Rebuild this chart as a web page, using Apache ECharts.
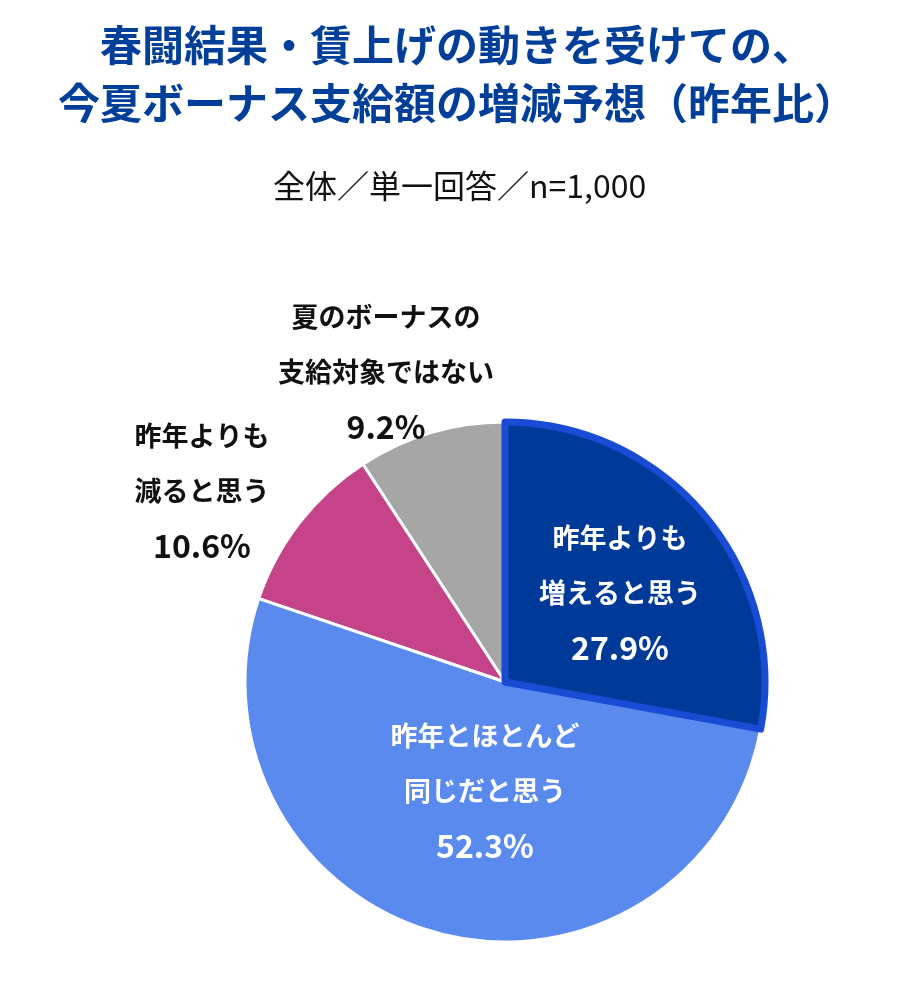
<!DOCTYPE html>
<html>
<head>
<meta charset="utf-8">
<script src="https://cdn.jsdelivr.net/npm/echarts@6/dist/echarts.min.js"></script>
<style>
  html, body { margin: 0; padding: 0; background: #fff; }
  #chart { width: 902px; height: 992px; }
</style>
</head>
<body>
<div id="chart"></div>
<script>
// data (drawn counter-clockwise from 12 o'clock so the highlighted slice is drawn last)
var categories = [
  "夏のボーナスの\n支給対象ではない",
  "昨年よりも\n減ると思う",
  "昨年とほとんど\n同じだと思う",
  "昨年よりも\n増えると思う"
];
var values = [9.2, 10.6, 52.3, 27.9];

var sliceColors = ["#a6a6a6", "#c54388", "#5b8aee", "#003a99"];
var labelColors = ["#111", "#111", "#fff", "#fff"];
var labelPos = [[386, 372], [202, 491], [485, 791], [620, 593]];

var chart = echarts.init(document.getElementById("chart"));

var pieData = values.map(function (v, i) {
  var item = {
    name: categories[i],
    value: v,
    itemStyle: { color: sliceColors[i], borderColor: "#fff", borderWidth: 3 },
    label: {
      color: labelColors[i],
      rich: { pct: { color: labelColors[i], fontSize: 32, fontWeight: "bold", lineHeight: 55, fontFamily: "Noto Sans CJK JP" } }
    }
  };
  if (i === 3) {
    // highlighted slice: thick bright-blue outline
    item.itemStyle = {
      color: sliceColors[i],
      borderColor: "#1a4bd4",
      borderWidth: 7,
      borderJoin: "round"
    };
  }
  return item;
});

var option = {
  backgroundColor: "#fff",
  animation: false,
  title: [
    {
      text: "春闘結果・賃上げの動きを受けての、\n今夏ボーナス支給額の増減予想（昨年比）",
      left: 452,
      top: 11,
      textAlign: "center",
      textStyle: {
        color: "#003f99",
        fontSize: 42,
        fontWeight: "bold",
        lineHeight: 58,
        fontFamily: "Noto Sans CJK JP"
      }
    },
    {
      text: "全体／単一回答／n=1,000",
      left: 268,
      top: 165,
      textStyle: {
        color: "#111",
        fontSize: 32,
        fontWeight: "normal",
        lineHeight: 32,
        fontFamily: "Noto Sans CJK JP"
      }
    }
  ],
  series: [
    {
      type: "pie",
      center: [505, 682],
      radius: 260,
      startAngle: 90,
      clockwise: false,
      silent: true,
      label: {
        show: true,
        position: "inside",
        formatter: function (p) { return p.name + "\n{pct|" + p.value.toFixed(1) + "%}"; },
        fontSize: 27,
        fontWeight: "bold",
        lineHeight: 55,
        align: "center",
        fontFamily: "Noto Sans CJK JP"
      },
      labelLine: { show: false },
      labelLayout: function (p) {
        var pos = labelPos[p.dataIndex];
        return { x: pos[0], y: pos[1], align: "center", verticalAlign: "middle" };
      },
      data: pieData
    }
  ]
};

chart.setOption(option);
</script>
</body>
</html>
